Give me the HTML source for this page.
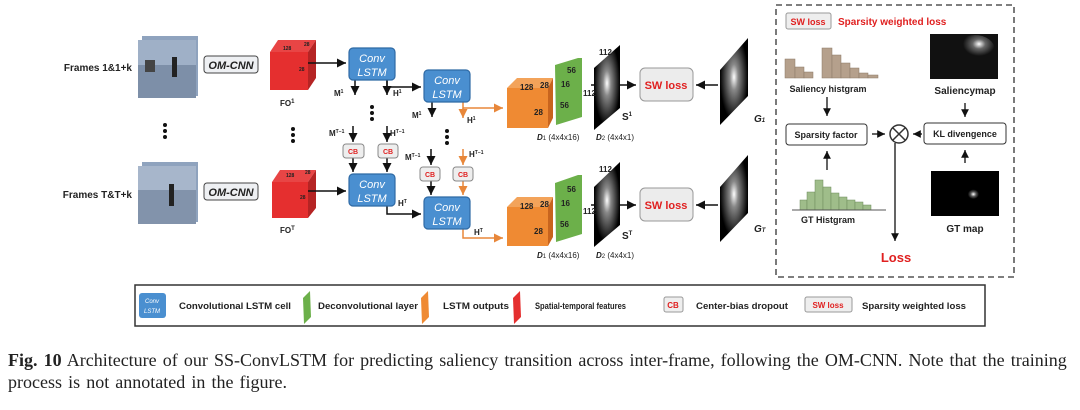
<!DOCTYPE html>
<html><head><meta charset="utf-8"><style>
body{margin:0;background:#fff;width:1080px;height:410px;overflow:hidden}
svg text{font-family:"Liberation Sans",sans-serif}
.cap{position:absolute;left:8px;font-family:"Liberation Serif",serif;font-size:18px;color:#222;white-space:nowrap;word-spacing:1.6px}
</style></head><body>
<svg width="1080" height="410" style="position:absolute;left:0;top:0">
<defs>
<marker id="a" markerWidth="8" markerHeight="8" refX="6" refY="3" orient="auto"><path d="M0,0L6,3L0,6z" fill="#111"/></marker>
<marker id="o" markerWidth="8" markerHeight="8" refX="6" refY="3" orient="auto"><path d="M0,0L6,3L0,6z" fill="#e8873a"/></marker>
<radialGradient id="sal" cx="0.5" cy="0.45" r="0.5"><stop offset="0" stop-color="#fff"/><stop offset="0.3" stop-color="#888"/><stop offset="1" stop-color="#000"/></radialGradient>
<radialGradient id="sal2" cx="0.6" cy="0.3" r="0.4"><stop offset="0" stop-color="#fff"/><stop offset="0.4" stop-color="#666"/><stop offset="1" stop-color="#111"/></radialGradient>
<radialGradient id="gt" cx="0.55" cy="0.55" r="0.2"><stop offset="0" stop-color="#fff"/><stop offset="0.5" stop-color="#555"/><stop offset="1" stop-color="#000"/></radialGradient>
</defs>
<g font-weight="bold" font-size="10" fill="#222">
<text x="132" y="71" text-anchor="end">Frames 1&amp;1+k</text>
<text x="132" y="198" text-anchor="end">Frames T&amp;T+k</text>
</g>
<g>
<rect x="142" y="36" width="56" height="60" fill="#8fa3be"/><rect x="138" y="40" width="58" height="58" fill="#9fb0c7"/><rect x="138" y="65" width="58" height="33" fill="#7d8fa8"/>
<rect x="172" y="57" width="5" height="20" fill="#222"/><rect x="145" y="60" width="10" height="12" fill="#444"/>
<rect x="142" y="162" width="56" height="60" fill="#8fa3be"/><rect x="138" y="166" width="58" height="58" fill="#a7b6cb"/><rect x="138" y="190" width="58" height="34" fill="#8293ab"/>
<rect x="169" y="184" width="5" height="22" fill="#222"/>
</g>
<g fill="#eef0f3" stroke="#444" stroke-width="1">
<rect x="204" y="56" width="54" height="17" rx="3"/><rect x="204" y="183" width="54" height="17" rx="3"/>
</g>
<g font-weight="bold" font-style="italic" font-size="11" fill="#222" text-anchor="middle"><text x="231" y="69">OM-CNN</text><text x="231" y="196">OM-CNN</text></g>
<g fill="#111"><circle cx="165" cy="125" r="2"/><circle cx="165" cy="131" r="2"/><circle cx="165" cy="137" r="2"/>
<circle cx="293" cy="129" r="2"/><circle cx="293" cy="135" r="2"/><circle cx="293" cy="141" r="2"/>
<circle cx="372" cy="107" r="2"/><circle cx="372" cy="113" r="2"/><circle cx="372" cy="119" r="2"/>
<circle cx="447" cy="131" r="2"/><circle cx="447" cy="137" r="2"/><circle cx="447" cy="143" r="2"/></g>
<g>
<polygon points="270,52 278,40 316,40 308,52" fill="#e84545"/><polygon points="308,52 316,40 316,78 308,90" fill="#b52424"/><rect x="270" y="52" width="38" height="38" fill="#e52f2f"/>
<polygon points="272,182 280,170 316,170 308,182" fill="#e84545"/><polygon points="308,182 316,170 316,208 308,218" fill="#b52424"/><rect x="272" y="182" width="36" height="36" fill="#e52f2f"/>
</g>
<g font-size="5" font-weight="bold" fill="#222"><text x="283" y="50">128</text><text x="304" y="46">28</text><text x="299" y="71">28</text><text x="286" y="177">128</text><text x="305" y="174">28</text><text x="300" y="199">28</text></g>
<g font-family="Liberation Serif" font-size="8" font-weight="bold" fill="#222"><text x="280" y="106">FO<tspan font-size="6" dy="-3">1</tspan></text><text x="280" y="233">FO<tspan font-size="6" dy="-3">T</tspan></text></g>
<g stroke="#111" stroke-width="1.5" fill="none" marker-end="url(#a)">
<line x1="308" y1="63" x2="346" y2="63"/><line x1="308" y1="191" x2="346" y2="191"/>
<path d="M387,80 V87 H421"/><path d="M387,206 V214 H421"/>
<line x1="355" y1="80" x2="355" y2="95"/><line x1="387" y1="80" x2="387" y2="95"/>
<line x1="432" y1="102" x2="432" y2="117"/>
<line x1="353" y1="126" x2="353" y2="142"/><line x1="387" y1="126" x2="387" y2="142"/>
<line x1="353" y1="158" x2="353" y2="172"/><line x1="387" y1="158" x2="387" y2="172"/>
<line x1="431" y1="149" x2="431" y2="165"/><line x1="431" y1="181" x2="431" y2="195"/>
<line x1="591" y1="85" x2="636" y2="85"/><line x1="591" y1="205" x2="636" y2="205"/>
<line x1="718" y1="85" x2="696" y2="85"/><line x1="718" y1="205" x2="696" y2="205"/>
</g>
<g stroke="#e8873a" stroke-width="1.5" fill="none" marker-end="url(#o)">
<path d="M463,102 V108 H503"/><path d="M463,229 V238 H503"/>
<line x1="463" y1="108" x2="463" y2="118"/>
<line x1="463" y1="149" x2="463" y2="165"/><line x1="463" y1="181" x2="463" y2="195"/>
</g>
<g font-family="Liberation Serif" font-size="8" font-weight="bold" fill="#222">
<text x="334" y="96">M<tspan font-size="5" dy="-3">1</tspan></text><text x="393" y="96">H<tspan font-size="5" dy="-3">1</tspan></text>
<text x="412" y="118">M<tspan font-size="5" dy="-3">1</tspan></text><text x="467" y="123">H<tspan font-size="5" dy="-3">1</tspan></text>
<text x="329" y="136">M<tspan font-size="5" dy="-3">T−1</tspan></text><text x="390" y="136">H<tspan font-size="5" dy="-3">T−1</tspan></text>
<text x="405" y="160">M<tspan font-size="5" dy="-3">T−1</tspan></text><text x="469" y="157">H<tspan font-size="5" dy="-3">T−1</tspan></text>
<text x="398" y="206">H<tspan font-size="5" dy="-3">T</tspan></text><text x="474" y="235">H<tspan font-size="5" dy="-3">T</tspan></text>
</g>
<g fill="#4a8fd0" stroke="#2f6aa5" stroke-width="1.2">
<rect x="349" y="48" width="46" height="32" rx="4"/><rect x="424" y="70" width="46" height="32" rx="4"/>
<rect x="349" y="174" width="46" height="32" rx="4"/><rect x="424" y="197" width="46" height="32" rx="4"/>
</g>
<g fill="#fff" font-style="italic" font-size="11" text-anchor="middle">
<text x="372" y="62">Conv</text><text x="372" y="76">LSTM</text><text x="447" y="84">Conv</text><text x="447" y="98">LSTM</text>
<text x="372" y="188">Conv</text><text x="372" y="202">LSTM</text><text x="447" y="211">Conv</text><text x="447" y="225">LSTM</text>
</g>
<g fill="#eee" stroke="#888"><rect x="343" y="144" width="21" height="14" rx="3"/><rect x="378" y="144" width="20" height="14" rx="3"/><rect x="420" y="167" width="20" height="14" rx="3"/><rect x="453" y="167" width="20" height="14" rx="3"/></g>
<g fill="#e02020" font-size="7" font-weight="bold" text-anchor="middle"><text x="353" y="154">CB</text><text x="388" y="154">CB</text><text x="430" y="177">CB</text><text x="463" y="177">CB</text></g>
<g>
<polygon points="507,88 517,78 553,78 548,88" fill="#f3a35a"/><polygon points="548,88 553,78 553,118 548,128" fill="#c8641e"/><rect x="507" y="88" width="41" height="40" fill="#ef8a33"/>
<polygon points="507,207 517,197 553,197 548,207" fill="#f3a35a"/><polygon points="548,207 553,197 553,237 548,246" fill="#c8641e"/><rect x="507" y="207" width="41" height="39" fill="#ef8a33"/>
<polygon points="555,65 578,58 582,58 582,117 556,125" fill="#6cb04a"/><polygon points="555,183 578,175 582,175 582,234 556,242" fill="#6cb04a"/>
<polygon points="594,68 620,45 620,108 594,130" fill="url(#sal)"/><polygon points="594,187 620,162 620,225 594,247" fill="url(#sal)"/>
<polygon points="720,70 748,38 748,96 720,125" fill="url(#sal)"/><polygon points="720,187 748,155 748,213 720,242" fill="url(#sal)"/>
</g>
<g font-size="8" font-weight="bold" fill="#222"><text x="520" y="90">128</text><text x="540" y="88">28</text><text x="534" y="115">28</text><text x="561" y="87">16</text><text x="567" y="73">56</text><text x="560" y="108">56</text>
<text x="520" y="209">128</text><text x="540" y="207">28</text><text x="534" y="234">28</text><text x="561" y="206">16</text><text x="567" y="192">56</text><text x="560" y="227">56</text>
<text x="599" y="55">112</text><text x="583" y="96">112</text><text x="599" y="172">112</text><text x="583" y="214">112</text></g>
<g font-family="Liberation Serif" font-size="8" fill="#222"><text x="537" y="140"><tspan font-style="italic" font-weight="bold">D</tspan><tspan font-size="6">1</tspan> (4x4x16)</text><text x="596" y="140"><tspan font-style="italic" font-weight="bold">D</tspan><tspan font-size="6">2</tspan> (4x4x1)</text>
<text x="537" y="258"><tspan font-style="italic" font-weight="bold">D</tspan><tspan font-size="6">1</tspan> (4x4x16)</text><text x="596" y="258"><tspan font-style="italic" font-weight="bold">D</tspan><tspan font-size="6">2</tspan> (4x4x1)</text>
<text x="622" y="120" font-weight="bold" font-size="10">S<tspan font-size="6" dy="-4">1</tspan></text><text x="622" y="239" font-weight="bold" font-size="10">S<tspan font-size="6" dy="-4">T</tspan></text>
<text x="754" y="122" font-style="italic" font-weight="bold" font-size="10">G<tspan font-size="6">1</tspan></text><text x="754" y="232" font-style="italic" font-weight="bold" font-size="10">G<tspan font-size="6">T</tspan></text></g>
<g fill="#ececec" stroke="#999"><rect x="640" y="68" width="53" height="33" rx="5"/><rect x="640" y="188" width="53" height="33" rx="5"/></g>
<g fill="#e02020" font-size="11" font-weight="bold" text-anchor="middle"><text x="666" y="89">SW loss</text><text x="666" y="209">SW loss</text></g>
<rect x="776" y="5" width="238" height="272" fill="none" stroke="#333" stroke-width="1.3" stroke-dasharray="6,4"/>
<rect x="786" y="13" width="45" height="16" rx="2" fill="#eee" stroke="#999"/>
<text x="808" y="25" font-size="9" fill="#e02020" font-weight="bold" text-anchor="middle">SW loss</text>
<text x="838" y="25" font-size="10" fill="#e02020" font-weight="bold">Sparsity weighted loss</text>
<g fill="#b5a08c" stroke="#8a7866" stroke-width="0.5"><rect x="785" y="59" width="10" height="19"/><rect x="795" y="67" width="9" height="11"/><rect x="804" y="72" width="9" height="6"/><rect x="822" y="48" width="10" height="30"/><rect x="832" y="55" width="9" height="23"/><rect x="841" y="63" width="9" height="15"/><rect x="850" y="68" width="9" height="10"/><rect x="859" y="73" width="9" height="5"/><rect x="868" y="75" width="10" height="3"/></g>
<g fill="#9fbd8a" stroke="#6c8a5a" stroke-width="0.5"><rect x="800" y="200" width="7" height="10"/><rect x="807" y="192" width="8" height="18"/><rect x="815" y="180" width="8" height="30"/><rect x="823" y="187" width="8" height="23"/><rect x="831" y="193" width="8" height="17"/><rect x="839" y="197" width="8" height="13"/><rect x="847" y="200" width="8" height="10"/><rect x="855" y="202" width="8" height="8"/><rect x="863" y="205" width="8" height="5"/></g>
<line x1="792" y1="210" x2="886" y2="210" stroke="#555"/>
<rect x="930" y="34" width="68" height="45" fill="#111"/><ellipse cx="975" cy="50" rx="20" ry="15" fill="url(#sal2)"/>
<rect x="931" y="171" width="68" height="45" fill="#000"/><ellipse cx="972" cy="193" rx="14" ry="12" fill="url(#gt)"/>
<g font-family="Liberation Serif" font-weight="bold" fill="#222" text-anchor="middle"><text x="828" y="92" font-size="9">Saliency histgram</text><text x="965" y="94" font-size="10">Saliencymap</text><text x="828" y="223" font-size="9">GT Histgram</text><text x="965" y="232" font-size="10">GT map</text></g>
<g fill="#fff" stroke="#333"><rect x="786" y="124" width="81" height="21" rx="3"/><rect x="924" y="123" width="82" height="21" rx="3"/><circle cx="899" cy="134" r="9" stroke-width="1.5"/></g>
<path d="M892.6,127.6L905.4,140.4M905.4,127.6L892.6,140.4" stroke="#333" stroke-width="1.5"/>
<g font-size="9" font-weight="bold" fill="#222" text-anchor="middle"><text x="826" y="138">Sparsity factor</text><text x="965" y="137">KL divengence</text></g>
<g stroke="#111" stroke-width="1.3" marker-end="url(#a)"><line x1="827" y1="97" x2="827" y2="116"/><line x1="965" y1="103" x2="965" y2="117"/><line x1="827" y1="170" x2="827" y2="151"/><line x1="965" y1="163" x2="965" y2="150"/><line x1="872" y1="134" x2="885" y2="134"/><line x1="922" y1="134" x2="913" y2="134"/><line x1="895" y1="143" x2="895" y2="241"/></g>
<text x="896" y="262" font-size="13" font-weight="bold" fill="#e02020" text-anchor="middle">Loss</text>
<rect x="135" y="285" width="850" height="41" fill="#fff" stroke="#333" stroke-width="1.5"/>
<rect x="139" y="293" width="27" height="25" rx="3" fill="#4a8fd0"/><text x="152" y="303" font-size="6" fill="#fff" font-style="italic" text-anchor="middle">Conv</text><text x="152" y="313" font-size="6" fill="#fff" font-style="italic" text-anchor="middle">LSTM</text>
<polygon points="303,298 310,291 311,317 304,324" fill="#6cb04a"/>
<polygon points="421,298 428,291 429,317 422,324" fill="#ef8a33"/>
<polygon points="513,298 520,291 521,317 514,324" fill="#e52f2f"/>
<rect x="664" y="297" width="19" height="15" rx="2" fill="#eee" stroke="#999"/><text x="673" y="308" font-size="8" fill="#e02020" font-weight="bold" text-anchor="middle">CB</text>
<rect x="805" y="297" width="47" height="15" rx="2" fill="#eee" stroke="#999"/><text x="828" y="308" font-size="8" fill="#e02020" font-weight="bold" text-anchor="middle">SW loss</text>
<g font-size="9" font-weight="bold" fill="#222"><text x="179" y="309" textLength="112" lengthAdjust="spacingAndGlyphs">Convolutional LSTM cell</text><text x="318" y="309" textLength="100" lengthAdjust="spacingAndGlyphs">Deconvolutional layer</text><text x="443" y="309" textLength="66" lengthAdjust="spacingAndGlyphs">LSTM outputs</text><text x="535" y="309" textLength="91" lengthAdjust="spacingAndGlyphs">Spatial-temporal features</text><text x="696" y="309" textLength="92" lengthAdjust="spacingAndGlyphs">Center-bias dropout</text><text x="862" y="309" textLength="104" lengthAdjust="spacingAndGlyphs">Sparsity weighted loss</text></g>
</svg>
<div class="cap" style="top:350px"><b>Fig. 10</b> Architecture of our SS-ConvLSTM for predicting saliency transition across inter-frame, following the OM-CNN. Note that the training</div>
<div class="cap" style="top:372px">process is not annotated in the figure.</div>
</body></html>
